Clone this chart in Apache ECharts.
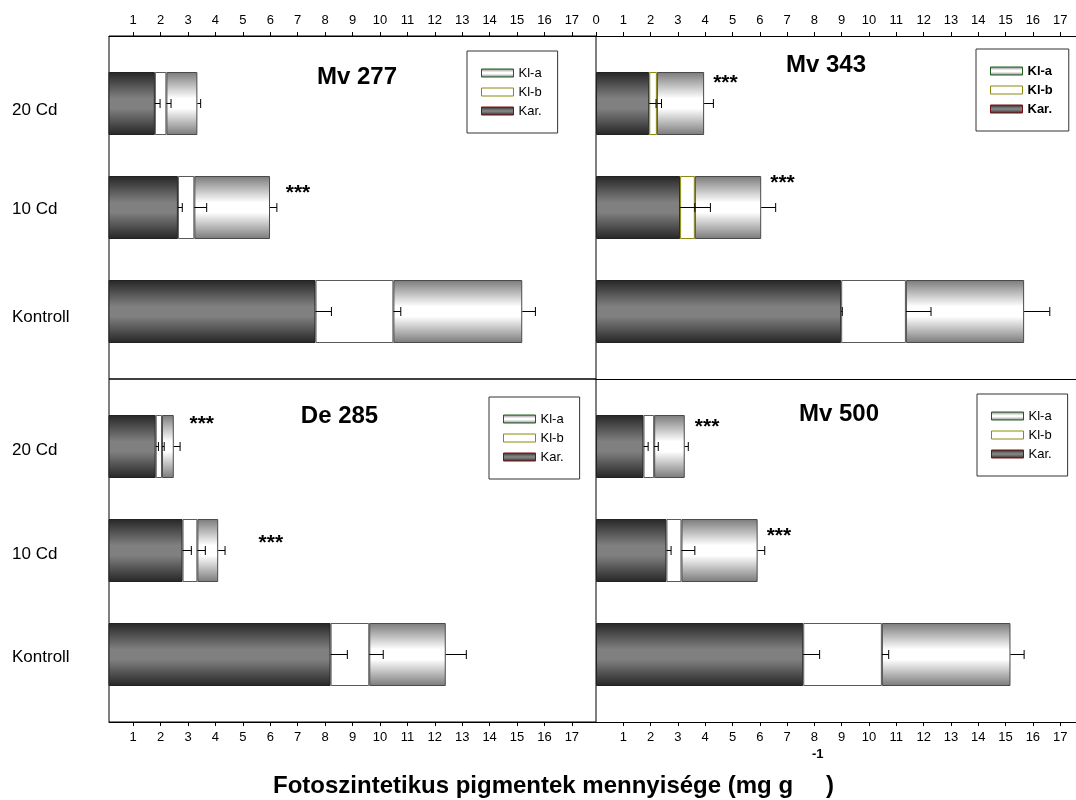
<!DOCTYPE html>
<html><head><meta charset="utf-8">
<script src="https://cdn.jsdelivr.net/npm/echarts@6/dist/echarts.min.js"></script>
<style>html,body{margin:0;padding:0;background:#fff}#c{width:1076px;height:800px}</style>
</head><body><div id="c"></div>
<script>
// ---------- data ----------
const categories = ['20 Cd', '10 Cd', 'Kontroll'];
const panelNames = ['Mv 277', 'Mv 343', 'De 285', 'Mv 500'];
const ticksLeft = [1,2,3,4,5,6,7,8,9,10,11,12,13,14,15,16,17];
const ticksRightTop = [0,1,2,3,4,5,6,7,8,9,10,11,12,13,14,15,16,17];

// Mv 277
const mv277Kar = [1.79, 2.63, 7.65];
const mv277Klb = [0.42, 0.60, 2.84];
const mv277Kla = [1.13, 2.76, 4.70];
const mv277ErrKar = [0.19, 0.16, 0.58];
const mv277ErrKlb = [0.17, 0.45, 0.27];
const mv277ErrKla = [0.12, 0.25, 0.48];
const mv277Stars = [null, 7.01, null];

// Mv 343
const mv343Kar = [1.95, 3.08, 8.98];
const mv343Klb = [0.28, 0.54, 2.37];
const mv343Kla = [1.73, 2.43, 4.33];
const mv343ErrKar = [0.25, 0.54, 0.04];
const mv343ErrKlb = [0.17, 0.57, 0.92];
const mv343ErrKla = [0.34, 0.53, 0.94];
const mv343Stars = [4.74, 6.83, null];

// De 285
const de285Kar = [1.82, 2.80, 8.20];
const de285Klb = [0.23, 0.54, 1.41];
const de285Kla = [0.43, 0.76, 2.79];
const de285ErrKar = [0.10, 0.32, 0.61];
const de285ErrKlb = [0.08, 0.29, 0.51];
const de285ErrKla = [0.23, 0.25, 0.75];
const de285Stars = [3.50, 6.02, null];

// Mv 500
const mv500Kar = [1.74, 2.58, 7.59];
const mv500Klb = [0.39, 0.55, 2.88];
const mv500Kla = [1.12, 2.79, 4.71];
const mv500ErrKar = [0.17, 0.17, 0.60];
const mv500ErrKlb = [0.15, 0.49, 0.25];
const mv500ErrKla = [0.13, 0.26, 0.50];
const mv500Stars = [4.07, 6.70, null];

const panelData = [
  {kar: mv277Kar, klb: mv277Klb, kla: mv277Kla, eKar: mv277ErrKar, eKlb: mv277ErrKlb, eKla: mv277ErrKla, stars: mv277Stars},
  {kar: mv343Kar, klb: mv343Klb, kla: mv343Kla, eKar: mv343ErrKar, eKlb: mv343ErrKlb, eKla: mv343ErrKla, stars: mv343Stars},
  {kar: de285Kar, klb: de285Klb, kla: de285Kla, eKar: de285ErrKar, eKlb: de285ErrKlb, eKla: de285ErrKla, stars: de285Stars},
  {kar: mv500Kar, klb: mv500Klb, kla: mv500Kla, eKar: mv500ErrKar, eKlb: mv500ErrKlb, eKla: mv500ErrKla, stars: mv500Stars}
];

// ---------- layout / style ----------
const FONT = '"Liberation Sans", Arial, Helvetica, sans-serif';
const BAND = 104;
const BAR_W = 63;
const layout = [
  {left: 109, top: 36, width: 487, height: 343, min: 0.117, max: 17.88, pos: 'top', ticks: ticksLeft, cats: true, border: true,
   title: [357, 77.5], legend: [467, 51], boldLegend: false, starDy: [0, -19, 0], olive: false, labelDy: [7, 1.5, 6]},
  {left: 596, top: 36, width: 480, height: 343, min: 0, max: 17.58, pos: 'top', ticks: ticksRightTop, cats: false, border: false,
   title: [826, 65.5], legend: [976, 49], boldLegend: true, starDy: [-25, -29, 0], olive: true, labelDy: [0, 0, 0]},
  {left: 109, top: 379, width: 487, height: 343, min: 0.117, max: 17.88, pos: 'bottom', ticks: ticksLeft, cats: true, border: true,
   title: [339.5, 416], legend: [489, 397], boldLegend: false, starDy: [-27, -12, 0], olive: false, labelDy: [4, 4, 3]},
  {left: 596, top: 379, width: 480, height: 343, min: 0, max: 17.58, pos: 'bottom', ticks: ticksLeft, cats: false, border: false,
   title: [839, 414], legend: [977, 394], boldLegend: false, starDy: [-24, -19, 0], olive: false, labelDy: [0, 0, 0]}
];

function grad(a, b) {
  return new echarts.graphic.LinearGradient(0, 0, 0, 1, [
    {offset: 0, color: a}, {offset: 0.42, color: b}, {offset: 0.58, color: b}, {offset: 1, color: a}
  ]);
}
const fillKar = grad('#262626', '#808080');
const fillKlb = '#ffffff';
const fillKla = grad('#7a7a7a', '#ffffff');

const option = {
  animation: false,
  backgroundColor: '#ffffff',
  textStyle: {fontFamily: FONT},
  grid: [], xAxis: [], yAxis: [], series: [], legend: [], graphic: []
};

panelData.forEach((d, i) => {
  const g = layout[i];
  const inset = (g.height - 3 * BAND) / 2;
  const oi = option.grid.length;
  option.grid.push({left: g.left, top: g.top, width: g.width, height: g.height, show: g.border,
    borderColor: '#000', borderWidth: 1, backgroundColor: 'rgba(0,0,0,0)'});
  const di = option.grid.length;
  option.grid.push({left: g.left, top: g.top + inset, width: g.width, height: 3 * BAND});

  option.xAxis.push({gridIndex: oi, type: 'value', min: g.min, max: g.max, position: g.pos,
    axisLine: {show: true, onZero: false, lineStyle: {color: '#000', width: 1}},
    axisTick: {show: true, length: 4, customValues: g.ticks, lineStyle: {color: '#000'}},
    axisLabel: {customValues: g.ticks, fontSize: 13, color: '#000', margin: 9, fontFamily: FONT},
    splitLine: {show: false}});
  if (!g.border && g.pos === 'top') {
    // dividing line between the upper and lower right panels
    option.xAxis.push({gridIndex: oi, type: 'value', min: g.min, max: g.max, position: 'bottom',
      axisLine: {show: true, onZero: false, lineStyle: {color: '#000', width: 1}},
      axisTick: {show: false}, axisLabel: {show: false}, splitLine: {show: false}});
  }
  option.yAxis.push({gridIndex: oi, type: 'value', show: false, splitLine: {show: false}});
  const dxi = option.xAxis.length;
  option.xAxis.push({gridIndex: di, type: 'value', min: g.min, max: g.max, show: false, splitLine: {show: false}});
  const dyi = option.yAxis.length;
  const rich = {};
  g.labelDy.forEach((o, k) => {
    rich['c' + k] = {fontSize: 17, color: '#000', fontFamily: FONT, padding: [2 * o, 0, 0, 0]};
  });
  option.yAxis.push({gridIndex: di, type: 'category', data: categories, inverse: true,
    axisLine: {show: false}, axisTick: {show: false},
    axisLabel: {show: g.cats, align: 'left', margin: 97, fontSize: 17, color: '#000', fontFamily: FONT,
      formatter: (v, k) => '{c' + k + '|' + v + '}', rich: rich}});

  const klbData = d.klb.map((v, j) => (g.olive && j < 2) ? {value: v, itemStyle: {borderColor: '#8a8a10'}} : v);
  const barBase = {type: 'bar', stack: 'p' + i, xAxisIndex: dxi, yAxisIndex: dyi, barWidth: BAR_W, silent: true};
  option.series.push(Object.assign({}, barBase, {name: 'Kar.', data: d.kar,
    itemStyle: {color: fillKar, borderColor: '#222', borderWidth: 1}}));
  option.series.push(Object.assign({}, barBase, {name: 'Kl-b', data: klbData,
    itemStyle: {color: fillKlb, borderColor: '#5a5a5a', borderWidth: 1}}));
  option.series.push(Object.assign({}, barBase, {name: 'Kl-a', data: d.kla,
    itemStyle: {color: fillKla, borderColor: '#4a4a4a', borderWidth: 1}}));

  // error bars
  const errData = [];
  categories.forEach((c, j) => {
    const e1 = d.kar[j], e2 = d.kar[j] + d.klb[j], e3 = e2 + d.kla[j];
    errData.push([e1, j, d.eKar[j]], [e2, j, d.eKlb[j]], [e3, j, d.eKla[j]]);
  });
  option.series.push({type: 'custom', name: 'err' + i, xAxisIndex: dxi, yAxisIndex: dyi, z: 5, silent: true,
    encode: {x: 0, y: 1}, data: errData,
    renderItem: function (params, api) {
      const s = api.coord([api.value(0), api.value(1)]);
      const e = api.coord([api.value(0) + api.value(2), api.value(1)]);
      return {type: 'group', children: [
        {type: 'line', shape: {x1: s[0], y1: s[1], x2: e[0], y2: e[1]}, style: {stroke: '#000', lineWidth: 1}},
        {type: 'line', shape: {x1: e[0], y1: e[1] - 4.5, x2: e[0], y2: e[1] + 4.5}, style: {stroke: '#000', lineWidth: 1}}
      ]};
    }});

  // significance stars
  const starData = [];
  d.stars.forEach((v, j) => { if (v !== null) starData.push([v, j, g.starDy[j]]); });
  option.series.push({type: 'custom', name: 'stars' + i, xAxisIndex: dxi, yAxisIndex: dyi, z: 6, silent: true,
    encode: {x: 0, y: 1}, data: starData,
    renderItem: function (params, api) {
      const p = api.coord([api.value(0), api.value(1)]);
      return {type: 'text', style: {text: '***', x: p[0], y: p[1] + api.value(2) + 5,
        font: 'bold 21px ' + FONT, fill: '#000', align: 'center', verticalAlign: 'middle',
        textAlign: 'center', textVerticalAlign: 'middle'}};
    }});

  // legend
  option.legend.push({left: g.legend[0], top: g.legend[1], orient: 'vertical', itemWidth: 32, itemHeight: 8,
    itemGap: 5, padding: [15, 16, 15, 14], borderColor: '#333', borderWidth: 1, backgroundColor: '#fff',
    selectedMode: false, z: 10,
    textStyle: {fontSize: 13, color: '#000', lineHeight: 14, fontWeight: g.boldLegend ? 'bold' : 'normal', fontFamily: FONT},
    data: [
      {name: 'Kl-a', icon: 'rect', itemStyle: {color: fillKla, borderColor: '#1f5a1f', borderWidth: 1}},
      {name: 'Kl-b', icon: 'rect', itemStyle: {color: '#fff', borderColor: '#8a8a10', borderWidth: 1}},
      {name: 'Kar.', icon: 'rect', itemStyle: {color: fillKar, borderColor: '#7a1010', borderWidth: 1}}
    ]});

  // panel title
  option.graphic.push({type: 'text', x: g.title[0], y: g.title[1], z: 20,
    style: {text: panelNames[i], font: 'bold 24px ' + FONT, fill: '#000', align: 'center', verticalAlign: 'middle',
      textAlign: 'center', textVerticalAlign: 'middle'}});
});

// axis title
option.graphic.push({type: 'text', x: 273, y: 786, z: 20,
  style: {text: 'Fotoszintetikus pigmentek mennyisége (mg g', font: 'bold 24px ' + FONT, fill: '#000',
    align: 'left', verticalAlign: 'middle', textAlign: 'left', textVerticalAlign: 'middle'}});
option.graphic.push({type: 'text', x: 812, y: 754, z: 20,
  style: {text: '-1', font: 'bold 13px ' + FONT, fill: '#000',
    align: 'left', verticalAlign: 'middle', textAlign: 'left', textVerticalAlign: 'middle'}});
option.graphic.push({type: 'text', x: 826, y: 786, z: 20,
  style: {text: ')', font: 'bold 24px ' + FONT, fill: '#000',
    align: 'left', verticalAlign: 'middle', textAlign: 'left', textVerticalAlign: 'middle'}});

const chart = echarts.init(document.getElementById('c'), null, {renderer: 'canvas'});
chart.setOption(option);
</script>
</body></html>
